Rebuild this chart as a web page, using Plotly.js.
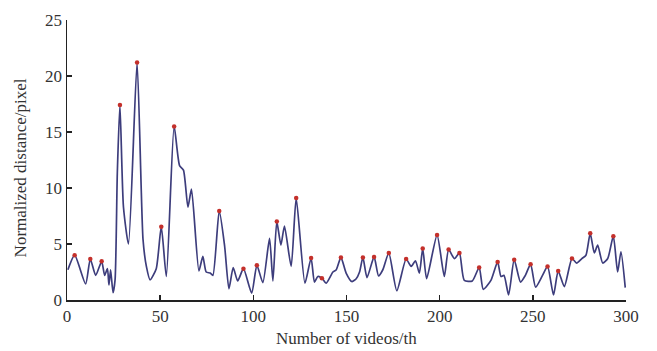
<!DOCTYPE html>
<html>
<head>
<meta charset="utf-8">
<script src="https://cdn.plot.ly/plotly-3.0.1.min.js"></script>
<style>html,body{margin:0;padding:0;background:#fff;}#chart{width:657px;height:351px;}</style>
</head>
<body>
<div id="chart"></div>
<script>
// Number of videos (x) and normalized distance (y)
const videoX = [0.5, 4.1, 10, 12.5, 15.4, 18.6, 20.2, 21.7, 22.5, 23.4, 24.7, 25.8, 27, 28.4, 30.3, 33, 37.6, 40.8, 42.6, 44.6, 47.9, 50.6, 53.3, 57.5,
  60.4, 62.5, 64.9, 66.8, 70.8, 72.9, 74.7, 76.9, 78.3, 81.7, 84.6, 86.9, 89.2, 91.6, 94.7, 99.1, 101.9, 105.1, 108.7, 110.5,
  112.6, 114.8, 116.7, 120.3, 123, 127.7, 131, 132.8, 134.6, 136.8, 139.1, 142.7, 144.5, 147, 149.8, 152.8, 155.2, 157, 158.8, 161,
  164.8, 167.2, 169.5, 172.7, 177, 182, 184.7, 187, 189.1, 190.9, 193, 198.6, 202.5, 204.8, 207.9, 210.6, 213.2, 217.5, 221.2, 223.4,
  227.5, 231.1, 232.9, 234.5, 237, 240, 243.4, 246, 248.8, 251.5, 255.2, 257.9, 261.1, 263.6, 266.9, 271, 273.5, 276.3, 278.5, 280.8,
  283, 284.8, 287.5, 290.2, 293.2, 295.5, 297.3, 299.6];
const distance = [2.7, 4.0, 1.43, 3.66, 2.2, 3.45, 2.2, 2.8, 1.34, 2.7, 0.65, 1.8, 11.3, 17.4, 8.3, 5.0, 21.2, 5.4, 3.0, 1.8, 2.8, 6.55, 2.1, 15.5,
  12.0, 11.6, 8.3, 9.9, 2.6, 3.9, 2.5, 2.4, 2.2, 7.95, 4.8, 1.0, 2.9, 1.7, 2.8, 0.62, 3.1, 1.55, 5.5, 1.7,
  7.0, 4.9, 6.6, 3.0, 9.1, 1.5, 3.75, 1.6, 2.1, 1.95, 1.5, 2.5, 2.7, 3.8, 2.4, 1.65, 1.9, 2.5, 3.8, 2.0,
  3.85, 2.15, 2.7, 4.2, 0.83, 3.66, 3.0, 3.5, 2.4, 4.6, 1.9, 5.8, 2.1, 4.5, 3.7, 4.2, 1.75, 1.7, 2.9, 0.95,
  1.75, 3.4, 2.1, 2.2, 0.45, 3.6, 1.6, 2.2, 3.2, 1.15, 2.2, 3.0, 0.45, 2.6, 1.2, 3.7, 3.3, 3.7, 4.0, 5.95,
  4.2, 4.9, 3.3, 3.7, 5.7, 2.5, 4.3, 1.1];
// x positions of the marked local peaks
const peakX = [4.1, 12.5, 18.6, 28.4, 37.6, 50.6, 57.5, 81.7, 94.7, 101.9, 112.6, 123, 131, 136.8, 147, 158.8, 164.8,
  172.7, 182, 190.9, 198.6, 204.8, 210.6, 221.2, 231.1, 240, 248.8, 257.9, 263.6, 271, 280.8, 293.2];
const peakY = peakX.map(px => distance[videoX.indexOf(px)]);

const xTicks = [0, 50, 100, 150, 200, 250, 300];
const yTicks = [0, 5, 10, 15, 20, 25];
const xTitle = 'Number of videos/th';
const yTitle = 'Normalized distance/pixel';

const serif = 'Liberation Serif, Times New Roman, serif';
const traces = [
  {x: videoX, y: distance, type: 'scatter', mode: 'lines',
   line: {color: '#3d3d7c', width: 1.7, shape: 'spline', smoothing: 0.6}, hoverinfo: 'skip'},
  {x: peakX, y: peakY, type: 'scatter', mode: 'markers',
   marker: {color: '#c4302b', size: 4.5, symbol: 'circle'}, hoverinfo: 'skip'}
];
const axisCommon = {showline: true, linecolor: '#222', linewidth: 1.5, ticks: 'inside', ticklen: 5,
  tickcolor: '#222', tickwidth: 1.5, showgrid: false, zeroline: false, mirror: false,
  tickfont: {family: serif, size: 17, color: '#333'}};
const layout = {
  width: 657, height: 351, showlegend: false,
  paper_bgcolor: '#fff', plot_bgcolor: '#fff',
  margin: {l: 67, r: 31, t: 20, b: 51},
  xaxis: Object.assign({}, axisCommon, {range: [0, 300], tickvals: xTicks, ticktext: xTicks.map(String)}),
  yaxis: Object.assign({}, axisCommon, {range: [0, 25], tickvals: yTicks, ticktext: yTicks.map(String)}),
  annotations: [
    {text: xTitle, xref: 'paper', yref: 'paper', x: 0.5, y: 0, yshift: -38, xanchor: 'center', yanchor: 'middle',
     showarrow: false, font: {family: serif, size: 17, color: '#333'}},
    {text: yTitle, xref: 'paper', yref: 'paper', x: 0, xshift: -47, y: 0.47, xanchor: 'center', yanchor: 'middle',
     textangle: -90, showarrow: false, font: {family: serif, size: 17, color: '#333'}}
  ]
};
Plotly.newPlot('chart', traces, layout, {displayModeBar: false, staticPlot: true});
</script>
</body>
</html>
